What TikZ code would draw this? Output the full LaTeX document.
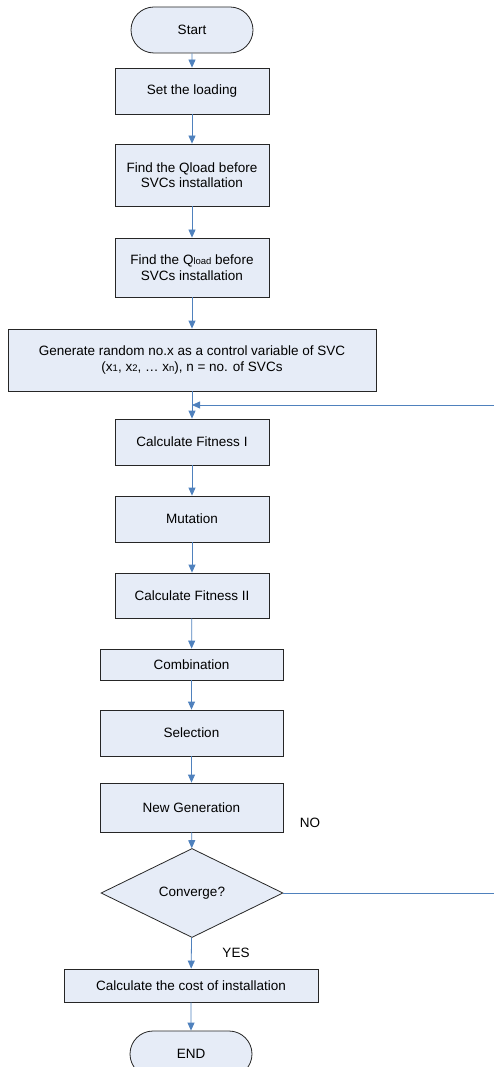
\documentclass[tikz,border=0pt]{standalone}
\usepackage{fontspec}
\setmainfont{Liberation Sans}
\usetikzlibrary{arrows.meta}
\usetikzlibrary{shapes.geometric,shapes.misc}
\definecolor{boxfill}{HTML}{E6ECF7}
\definecolor{flowblue}{HTML}{4F81BD}

\begin{document}
\begin{tikzpicture}[x=1pt,y=-1pt,
    font=\fontsize{13.5}{15.5}\selectfont,
    proc/.style={draw=black!85, fill=boxfill, line width=0.8pt, inner sep=0pt, align=center},
    term/.style={proc, rounded rectangle, minimum width=122pt, minimum height=46pt},
    test/.style={proc, diamond, minimum width=182pt, minimum height=89pt},
    flow/.style={draw=flowblue, line width=0.8pt, -{Triangle[length=8pt,width=7pt]}},
    loopline/.style={draw=flowblue, line width=0.8pt}]
      \def\sub#1{{\fontsize{9.5}{9.5}\selectfont #1}}
      \useasboundingbox (0,0) rectangle (494,1067);

      \node[term] (start) at (192,30) {Start};
      \node[proc, minimum width=154pt, minimum height=46pt] (setload) at (192,91) {Set the loading};
      \node[proc, minimum width=154pt, minimum height=62pt] (qload) at (192,175) {Find the Qload before\\SVCs installation};
      \node[proc, minimum width=154pt, minimum height=59pt] (qloadsub) at (192,267.5) {Find the Q\sub{load} before\\SVCs installation};
      \node[proc, minimum width=368pt, minimum height=62pt] (gen) at (192,360) {Generate random no.x as a control variable of SVC\\(x\sub{1}, x\sub{2}, \dots\ x\sub{n}), n = no. of SVCs};
      \node[proc, minimum width=154pt, minimum height=46pt] (fit1) at (192,442) {Calculate Fitness I};
      \node[proc, minimum width=154pt, minimum height=46pt] (mut) at (192,519) {Mutation};
      \node[proc, minimum width=154pt, minimum height=45pt] (fit2) at (192,595.5) {Calculate Fitness II};
      \node[proc, minimum width=183pt, minimum height=31pt] (comb) at (191.5,664.5) {Combination};
      \node[proc, minimum width=183pt, minimum height=46pt] (sel) at (191.5,733) {Selection};
      \node[proc, minimum width=183pt, minimum height=49pt] (newgen) at (191.5,807.5) {New Generation};
      \node[test] (conv) at (192,893) {Converge?};
      \node[proc, minimum width=254pt, minimum height=33pt] (cost) at (191,985.5) {Calculate the cost of installation};
      \node[term] (finish) at (191,1054) {END};

      \node (nolabel) at (310,823) {NO};
      \node (yeslabel) at (236,953) {YES};

      \draw[flow] (start) -- (setload);
      \draw[flow] (setload) -- (qload);
      \draw[flow] (qload) -- (qloadsub);
      \draw[flow] (qloadsub) -- (gen);
      \draw[flow] (gen) -- (fit1);
      \draw[flow] (fit1) -- (mut);
      \draw[flow] (mut) -- (fit2);
      \draw[flow] (fit2) -- (comb);
      \draw[flow] (comb) -- (sel);
      \draw[flow] (sel) -- (newgen);
      \draw[flow] (newgen) -- (conv);
      \draw[flow] (conv) -- (cost);
      \draw[flow] (cost) -- (finish);

      % loop back, its right part lies outside the page
      \coordinate (noout) at (494,893);
      \coordinate (backin) at (494,405);
      \coordinate (join) at (gen.south |- backin);
      \draw[loopline] (conv.east) -- (noout);
      \draw[flow] (backin) -- (join);
\end{tikzpicture}
\end{document}
